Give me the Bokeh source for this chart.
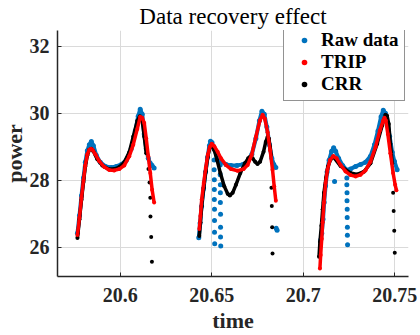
from bokeh.plotting import figure
from bokeh.models import Legend, LegendItem, FixedTicker, Range1d
from bokeh.embed import file_html
from bokeh.resources import INLINE

# ---------------- data ----------------
x_ticks = [20.6, 20.65, 20.7, 20.75]
x_tick_labels = ["20.6", "20.65", "20.7", "20.75"]
y_ticks = [26, 28, 30, 32]
y_tick_labels = ["26", "28", "30", "32"]

# Raw data (blue)
raw_t1 = [20.5766, 20.5777, 20.5788, 20.5799, 20.5809, 20.5820, 20.5831, 20.5842, 20.5853,
          20.5869, 20.5891, 20.5919, 20.5951, 20.5978, 20.6006, 20.6033, 20.6060, 20.6082,
          20.6098, 20.6109, 20.6120, 20.6131, 20.6142, 20.6153, 20.6164, 20.6174, 20.6185]
raw_v1 = [26.41, 26.94, 27.53, 28.06, 28.53, 28.88, 29.06, 29.15, 29.03,
          28.74, 28.53, 28.41, 28.38, 28.41, 28.47, 28.59, 28.94, 29.47,
          29.91, 30.12, 29.97, 29.38, 28.94, 28.65, 28.50, 28.44, 28.36]
raw_t2 = [20.6429, 20.6436, 20.6444, 20.6455, 20.6466, 20.6477, 20.6487, 20.6493, 20.6501,
          20.6512, 20.6529, 20.6550, 20.6578, 20.6605, 20.6638, 20.6670, 20.6697, 20.6719,
          20.6741, 20.6760, 20.6774, 20.6787, 20.6801, 20.6815, 20.6828, 20.6839, 20.6850]
raw_v2 = [26.28, 26.71, 27.21, 27.74, 28.24, 28.68, 29.03, 29.16, 29.12,
          28.94, 28.71, 28.56, 28.47, 28.44, 28.44, 28.47, 28.56, 28.77,
          29.24, 29.77, 30.06, 29.97, 29.59, 29.06, 28.65, 28.47, 28.38]
raw_t3 = [20.7095, 20.7101, 20.7108, 20.7114, 20.7122, 20.7130, 20.7141, 20.7155, 20.7166,
          20.7177, 20.7193, 20.7215, 20.7237, 20.7258, 20.7286, 20.7313, 20.7340, 20.7367,
          20.7389, 20.7408, 20.7425, 20.7437, 20.7449, 20.7460, 20.7472, 20.7486, 20.7498,
          20.7513]
raw_v3 = [26.21, 26.41, 26.83, 27.33, 27.83, 28.24, 28.59, 28.86, 28.97,
          28.86, 28.65, 28.44, 28.30, 28.33, 28.41, 28.47, 28.53, 28.71,
          29.06, 29.47, 29.89, 30.09, 30.00, 29.71, 29.30, 28.83, 28.56,
          28.31]
# raw-data drop-outs and stray samples
raw_drop_t = [20.6513, 20.6513, 20.6514, 20.6514, 20.6514, 20.6515, 20.6515, 20.6515, 20.6516,
              20.6546, 20.6546, 20.6547, 20.6547, 20.6547, 20.6548, 20.6548, 20.6548, 20.6549,
              20.6852, 20.6857,
              20.7171,
              20.7238, 20.7238, 20.7239, 20.7239, 20.7240, 20.7240, 20.7241, 20.7241, 20.7242]
raw_drop_v = [28.60, 28.31, 28.01, 27.72, 27.42, 27.13, 26.79, 26.44, 26.10,
              28.45, 28.16, 27.86, 27.62, 27.33, 26.98, 26.59, 26.30, 26.03,
              26.56, 26.50,
              27.96,
              28.06, 27.86, 27.62, 27.38, 27.13, 26.88, 26.59, 26.35, 26.07]

# TRIP (red)
trip_t1 = [20.5766, 20.5777, 20.5788, 20.5799, 20.5809, 20.5820, 20.5831, 20.5840, 20.5848,
           20.5864, 20.5886, 20.5913, 20.5940, 20.5967, 20.5995, 20.6022, 20.6049, 20.6071,
           20.6093, 20.6109, 20.6120, 20.6131, 20.6142, 20.6153, 20.6164, 20.6174, 20.6185]
trip_v1 = [26.36, 26.88, 27.47, 28.00, 28.44, 28.77, 28.91, 28.94, 28.91,
           28.77, 28.56, 28.39, 28.30, 28.29, 28.33, 28.44, 28.71, 29.06,
           29.53, 29.89, 29.86, 29.71, 29.24, 28.71, 28.21, 27.71, 27.33]
trip_t2 = [20.6432, 20.6438, 20.6445, 20.6456, 20.6467, 20.6478, 20.6489, 20.6500, 20.6514,
           20.6532, 20.6550, 20.6578, 20.6605, 20.6641, 20.6674, 20.6696, 20.6718, 20.6741,
           20.6763, 20.6778, 20.6790, 20.6805, 20.6819, 20.6832, 20.6841, 20.6850]
trip_v2 = [26.54, 26.93, 27.42, 27.91, 28.36, 28.75, 28.99, 29.09, 29.01,
           28.85, 28.65, 28.45, 28.33, 28.28, 28.33, 28.45, 28.75, 29.29,
           29.78, 29.95, 29.83, 29.43, 28.89, 28.31, 27.82, 27.38]
trip_t3 = [20.7091, 20.7095, 20.7101, 20.7106, 20.7113, 20.7122, 20.7132, 20.7146, 20.7164,
           20.7182, 20.7204, 20.7231, 20.7258, 20.7286, 20.7313, 20.7340, 20.7367, 20.7395,
           20.7418, 20.7437, 20.7444, 20.7451, 20.7462, 20.7476, 20.7491, 20.7502, 20.7509]
trip_v3 = [25.36, 25.76, 26.25, 26.74, 27.33, 27.91, 28.31, 28.60, 28.72,
           28.65, 28.45, 28.26, 28.15, 28.11, 28.16, 28.29, 28.55, 28.99,
           29.48, 29.78, 29.86, 29.78, 29.38, 28.80, 28.21, 27.86, 27.70]

# CRR (black)
crr_t1 = [20.5766, 20.5777, 20.5788, 20.5799, 20.5809, 20.5820, 20.5831, 20.5842, 20.5853,
          20.5875, 20.5902, 20.5935, 20.5967, 20.5995, 20.6022, 20.6049, 20.6071, 20.6093,
          20.6107, 20.6120, 20.6131, 20.6142]
crr_v1 = [26.27, 26.83, 27.41, 27.94, 28.41, 28.74, 28.91, 28.94, 28.86,
          28.62, 28.44, 28.33, 28.33, 28.39, 28.53, 28.83, 29.30, 29.77,
          29.91, 29.77, 29.30, 28.80]
crr_t2 = [20.6432, 20.6438, 20.6445, 20.6456, 20.6467, 20.6478, 20.6489, 20.6500, 20.6514,
          20.6529, 20.6547, 20.6568, 20.6587, 20.6599, 20.6614, 20.6632, 20.6656, 20.6681,
          20.6699, 20.6710, 20.6723, 20.6737, 20.6750, 20.6764, 20.6783, 20.6795, 20.6805,
          20.6812, 20.6819, 20.6824]
crr_v2 = [26.33, 26.74, 27.23, 27.77, 28.26, 28.70, 28.97, 29.07, 28.89,
          28.60, 28.21, 27.82, 27.59, 27.54, 27.62, 27.86, 28.21, 28.50,
          28.65, 28.70, 28.65, 28.55, 28.48, 28.55, 28.85, 29.14, 29.29,
          29.24, 28.99, 28.75]
crr_t3 = [20.7086, 20.7091, 20.7099, 20.7106, 20.7113, 20.7124, 20.7135, 20.7150, 20.7164,
          20.7204, 20.7258, 20.7295, 20.7331, 20.7367, 20.7404, 20.7431, 20.7449, 20.7458,
          20.7467, 20.7476, 20.7486]
crr_v3 = [25.71, 26.15, 26.64, 27.13, 27.62, 28.06, 28.41, 28.62, 28.70,
          28.42, 28.21, 28.17, 28.25, 28.50, 29.09, 29.63, 29.95, 29.92,
          29.68, 29.09, 28.50]
# CRR samples at the end of each segment
crr_tail_t = [20.6154, 20.6160, 20.6164, 20.6165, 20.6169, 20.6173,
              20.6826, 20.6828, 20.6830, 20.6832,
              20.7491, 20.7494, 20.7497, 20.7500]
crr_tail_v = [28.33, 27.93, 27.47, 26.91, 26.30, 25.56,
              27.77, 27.23, 26.59, 25.81,
              27.62, 27.08, 26.49, 25.83]

# ---------------- figure ----------------
BLUE = "#0072BD"
RED = "#FF0000"
BLACK = "#000000"
AX = "#262626"
FONT = "Liberation Serif"

SHIFT_L = 7   # canvas starts slightly left of / above the page origin
SHIFT_T = 4

p = figure(width=420 + SHIFT_L, height=335 + SHIFT_T, output_backend="svg",
           toolbar_location=None,
           x_range=Range1d(20.5657, 20.7575), y_range=Range1d(25.12, 32.47),
           min_border_left=57 + SHIFT_L, min_border_right=12,
           min_border_top=30 + SHIFT_T, min_border_bottom=55)
p.margin = (-SHIFT_T, 0, 0, -SHIFT_L)
p.outline_line_color = None
p.background_fill_color = "white"
p.border_fill_color = "white"

p.title.text = "Data recovery effect"
p.title.align = "center"
p.title.text_font = FONT
p.title.text_font_style = "normal"
p.title.text_font_size = "23px"
p.title.text_color = BLACK
p.title.standoff = 4

for ax in (p.xaxis, p.yaxis):
    ax.axis_line_color = AX
    ax.axis_line_width = 1.5
    ax.major_tick_line_color = AX
    ax.major_tick_in = 4
    ax.major_tick_out = 0
    ax.minor_tick_line_color = None
    ax.major_label_text_font = FONT
    ax.major_label_text_font_style = "bold"
    ax.major_label_text_font_size = "20px"
    ax.major_label_text_color = AX
    ax.axis_label_text_font = FONT
    ax.axis_label_text_font_style = "bold"
    ax.axis_label_text_font_size = "22px"
    ax.axis_label_text_color = AX

p.xaxis.ticker = FixedTicker(ticks=x_ticks)
p.xaxis.major_label_overrides = dict(zip(x_ticks, x_tick_labels))
p.yaxis.ticker = FixedTicker(ticks=y_ticks)
p.yaxis.major_label_overrides = dict(zip(y_ticks, y_tick_labels))
p.xaxis.axis_label = "time"
p.yaxis.axis_label = "power"
p.xaxis.major_label_standoff = 11
p.yaxis.major_label_standoff = 8
p.xaxis.axis_label_standoff = 3
p.yaxis.axis_label_standoff = 0

p.xgrid.ticker = FixedTicker(ticks=x_ticks)
p.ygrid.ticker = FixedTicker(ticks=y_ticks)
p.grid.grid_line_color = "#dadada"
p.grid.grid_line_width = 1

# raw data
raw_series = [(raw_t1, raw_v1), (raw_t2, raw_v2), (raw_t3, raw_v3)]
raw_all_t, raw_all_v = [], []
for t, v in raw_series:
    p.line(t, v, line_color=BLUE, line_width=4)
    raw_all_t += t
    raw_all_v += v
raw_r = p.scatter(raw_all_t + raw_drop_t, raw_all_v + raw_drop_v, size=5,
                  fill_color=BLUE, line_color=None)

# CRR
crr_series = [(crr_t1, crr_v1), (crr_t2, crr_v2), (crr_t3, crr_v3)]
crr_all_t, crr_all_v = [], []
for t, v in crr_series:
    p.line(t, v, line_color=BLACK, line_width=3.5)
    crr_all_t += t
    crr_all_v += v
crr_r = p.scatter(crr_all_t + crr_tail_t, crr_all_v + crr_tail_v, size=4,
                  fill_color=BLACK, line_color=None)

# TRIP
trip_series = [(trip_t1, trip_v1), (trip_t2, trip_v2), (trip_t3, trip_v3)]
trip_all_t, trip_all_v = [], []
for t, v in trip_series:
    p.line(t, v, line_color=RED, line_width=3.5)
    trip_all_t += t
    trip_all_v += v
trip_r = p.scatter(trip_all_t, trip_all_v, size=4, fill_color=RED, line_color=None)

legend = Legend(items=[LegendItem(label="Raw data", renderers=[raw_r]),
                       LegendItem(label="TRIP", renderers=[trip_r]),
                       LegendItem(label="CRR", renderers=[crr_r])],
                location=(226, 175), margin=0, padding=5, spacing=0,
                label_height=21, glyph_height=14, glyph_width=30, label_standoff=2,
                label_text_font=FONT, label_text_font_style="bold",
                label_text_font_size="19px", label_text_color=BLACK,
                border_line_color=AX, border_line_width=1.5,
                background_fill_color="white", background_fill_alpha=1)
p.add_layout(legend, "center")

open("out.html", "w").write(file_html(p, INLINE))
